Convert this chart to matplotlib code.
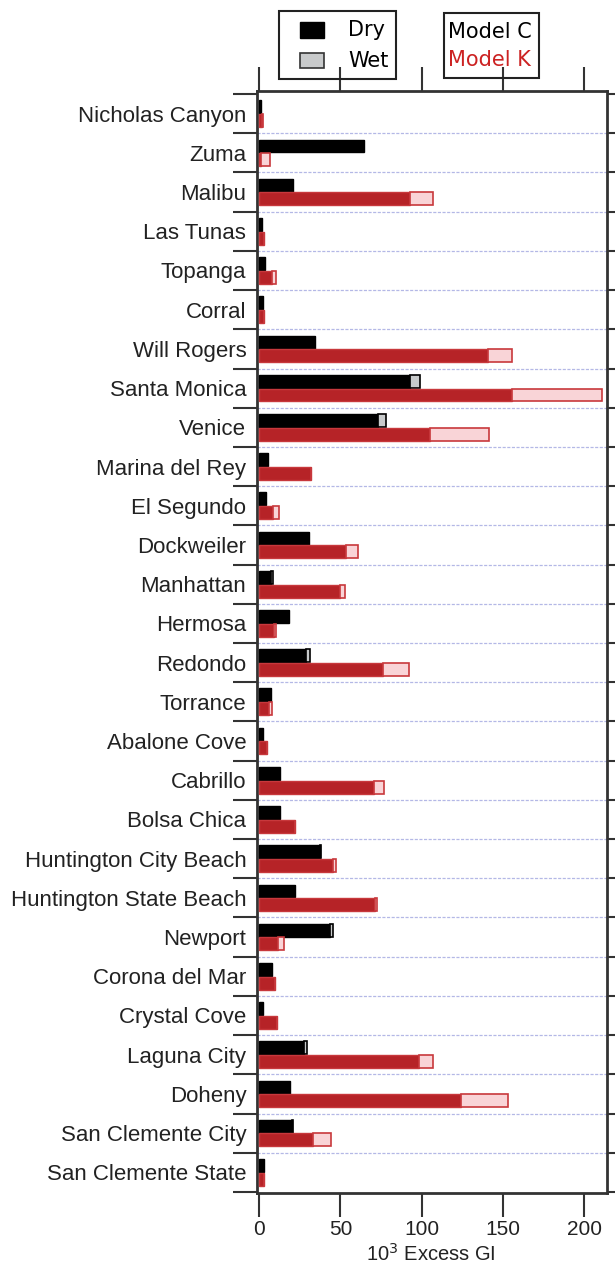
import numpy as np
import matplotlib
matplotlib.use("Agg")
import matplotlib.pyplot as plt
from matplotlib.patches import Rectangle

# beaches, north to south
beaches = ["Nicholas Canyon", "Zuma", "Malibu", "Las Tunas", "Topanga", "Corral",
           "Will Rogers", "Santa Monica", "Venice", "Marina del Rey", "El Segundo",
           "Dockweiler", "Manhattan", "Hermosa", "Redondo", "Torrance", "Abalone Cove",
           "Cabrillo", "Bolsa Chica", "Huntington City Beach", "Huntington State Beach",
           "Newport", "Corona del Mar", "Crystal Cove", "Laguna City", "Doheny",
           "San Clemente City", "San Clemente State"]

# excess GI (10^3), dry weather and total (dry + wet)
c_dry = [1.5, 64.8, 21.1, 2.0, 3.7, 2.3, 34.4, 92.8, 73.3, 5.7, 4.3, 30.9, 7.5, 18.2,
         28.9, 7.4, 2.3, 12.9, 12.9, 37.5, 21.9, 43.6, 7.8, 2.7, 27.9, 19.1, 20.2, 3.1]
c_tot = [1.5, 64.8, 21.1, 2.0, 3.7, 2.3, 34.4, 99.0, 78.0, 5.7, 4.3, 30.9, 8.3, 18.2,
         31.1, 7.4, 2.3, 12.9, 12.9, 37.9, 21.9, 45.3, 7.8, 2.7, 29.5, 19.1, 20.7, 3.1]
k_dry = [2.0, 1.5, 92.8, 3.1, 7.8, 3.3, 141.0, 155.7, 105.1, 32.2, 8.4, 53.3, 49.8, 9.2,
         76.0, 6.4, 4.7, 70.7, 21.9, 45.7, 71.3, 11.9, 10.0, 11.3, 98.5, 124.0, 33.4, 3.3]
k_tot = [2.3, 6.5, 106.7, 3.1, 10.4, 3.3, 155.7, 211.0, 141.4, 32.2, 12.5, 60.7, 52.7, 10.2,
         92.0, 7.8, 4.7, 76.6, 21.9, 47.1, 72.3, 15.4, 10.0, 11.3, 107.1, 153.2, 44.0, 3.3]

xticks = [0, 50, 100, 150, 200]

n = len(beaches)
y = np.arange(n)
c_wet = np.array(c_tot) - np.array(c_dry)
k_wet = np.array(k_tot) - np.array(k_dry)

fig = plt.figure(figsize=(6.15, 12.66), dpi=100)
ax = fig.add_axes([0.4185, 0.0574, 0.5688, 0.8710])

h = 0.33
off = 0.175
red_edge = "#c8383c"

# Model C: black dry, grey wet
ax.barh(y - off, c_dry, height=h, color="black", edgecolor="black", lw=1, zorder=3)
ax.barh(y - off, c_wet, left=c_dry, height=h, color="#c8cacb", edgecolor="black",
        lw=1.2, zorder=3)
# Model K: red dry, pink wet
ax.barh(y + off, k_dry, height=h, color="#b62327", edgecolor=red_edge, lw=1, zorder=3)
ax.barh(y + off, k_wet, left=k_dry, height=h, color="#f9d4d7", edgecolor=red_edge,
        lw=1.2, zorder=3)

# dotted separators between beaches
for b in np.arange(0.5, n - 1, 1.0):
    ax.axhline(b, color="#b4b8e6", lw=0.9, ls=(0, (2.5, 1.2)), zorder=1)

ax.set_xticks(xticks)
ax.set_xticklabels([str(t) for t in xticks], fontsize=15, family="Liberation Sans",
                   color="#222222")
ax.set_yticks(np.arange(-0.5, n + 0.5, 1.0))
ax.set_yticklabels([])
ax.set_yticks(y, minor=True)
ax.set_yticklabels(beaches, minor=True, fontsize=16, family="Liberation Sans",
                   color="#222222")
ax.tick_params(axis="y", which="minor", length=0, pad=8)
ax.tick_params(axis="y", which="major", direction="out", length=17, width=1.5,
               left=True, right=True, color="#333333")
ax.tick_params(axis="x", which="major", direction="out", length=17, width=1.5,
               top=True, bottom=True, color="#333333", pad=2)
ax.set_xlim(-1, 214)
ax.set_ylim(n - 0.464, -0.587)
ax.set_xlabel("10$^3$ Excess GI", fontsize=14.5, family="Liberation Sans",
              color="#222222", va="center")
ax.xaxis.set_label_coords(0.496, -0.0545)

for s in ax.spines.values():
    s.set_linewidth(2)
    s.set_color("#333333")

# legend boxes above the plot, placed in figure pixels
W, H = 615, 1266


def box(x0, y0, x1, y1, **kw):
    fig.patches.append(Rectangle((x0 / W, 1 - y1 / H), (x1 - x0) / W, (y1 - y0) / H,
                                 transform=fig.transFigure, **kw))


box(279, 11, 396, 79, fill=False, edgecolor="#222222", lw=1.5)
box(300, 22, 324, 38, facecolor="black", edgecolor="black", lw=1)
box(300, 53, 324, 68, facecolor="#c8cacb", edgecolor="#333333", lw=1.2)
fig.text(348 / W, 1 - 30 / H, "Dry", fontsize=15, family="DejaVu Sans", va="center")
fig.text(348 / W, 1 - 61 / H, "Wet", fontsize=15, family="DejaVu Sans", va="center")

box(444, 13, 539, 78, fill=False, edgecolor="#222222", lw=1.5)
fig.text(448 / W, 1 - 32 / H, "Model C", fontsize=15, family="DejaVu Sans", va="center")
fig.text(448 / W, 1 - 60 / H, "Model K", fontsize=15, family="DejaVu Sans", va="center",
         color="#cc2222")

fig.savefig("out.png", dpi=100)
